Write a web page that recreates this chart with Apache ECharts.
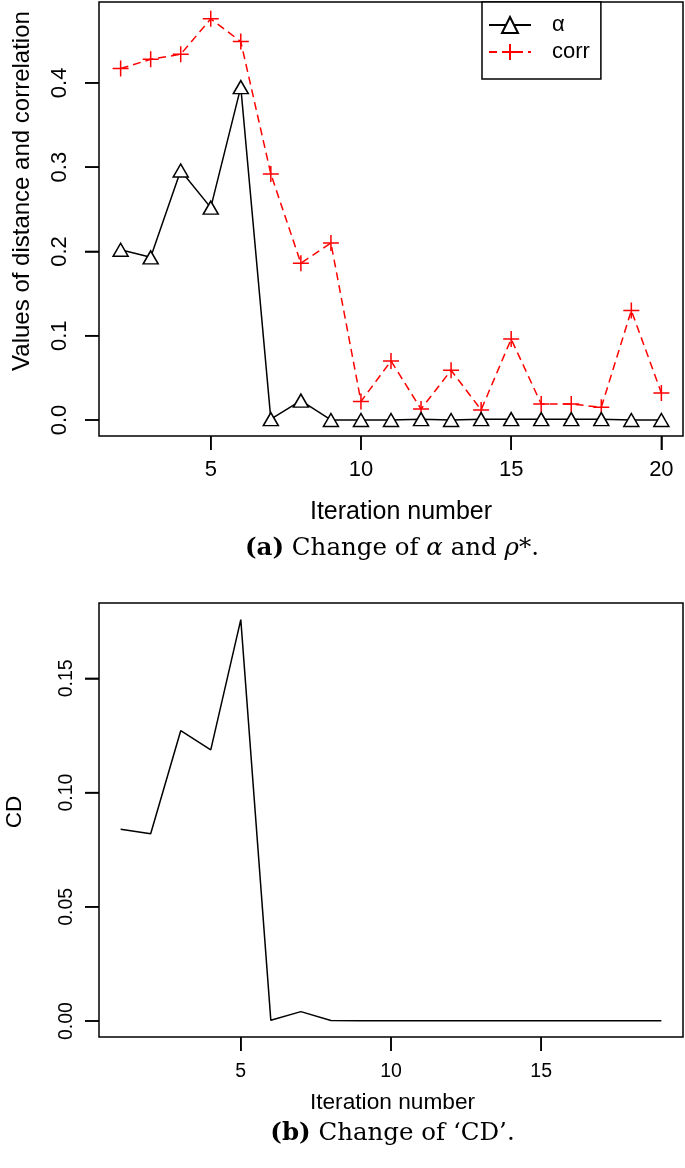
<!DOCTYPE html>
<html>
<head>
<meta charset="utf-8">
<script src="https://cdn.jsdelivr.net/npm/echarts@6/dist/echarts.min.js"></script>
<style>
html,body{margin:0;padding:0;background:#fff;}
#c{width:685px;height:1168px;}
</style>
</head>
<body>
<div id="c"></div>
<script>
// ---- data (top chart) ----
const iterA = [2,3,4,5,6,7,8,9,10,11,12,13,14,15,16,17,18,19,20];
const alphaVals = [0.202,0.193,0.296,0.252,0.395,0.001,0.023,0.000,0.000,0.000,0.001,0.000,0.001,0.001,0.001,0.001,0.001,0.000,0.000];
const corrVals = [0.417,0.428,0.434,0.476,0.449,0.292,0.186,0.210,0.022,0.070,0.013,0.059,0.012,0.096,0.019,0.019,0.015,0.130,0.032];
const xTicksA = [5,10,15,20];
const yTicksA = [0,0.1,0.2,0.3,0.4];
// ---- data (bottom chart) ----
const iterB = [1,2,3,4,5,6,7,8,9,10,11,12,13,14,15,16,17,18,19];
const cdVals = [0.0840,0.0820,0.1271,0.1187,0.1757,0.0003,0.0041,0.0002,0.0001,0.0001,0.0001,0.0001,0.0001,0.0001,0.0001,0.0001,0.0001,0.0001,0.0001];
const xTicksB = [5,10,15];
const yTicksB = [0,0.05,0.10,0.15];

// axis ranges (R-style 4% padding)
const xRangeA = [1.28, 20.72], yRangeA = [-0.019, 0.496];
const xRangeB = [0.28, 19.72], yRangeB = [-0.007, 0.183];

const pairs = (xs, ys) => xs.map((x,i)=>[x, ys[i]]);
const SANS = 'Liberation Sans, Arial, sans-serif';
const SERIF = 'DejaVu Serif, serif';

const chart = echarts.init(document.getElementById('c'), null, {renderer:'canvas'});

function xAxis(gi, range, ticks, fs, margin){
  return {
    type:'value', gridIndex:gi, min:range[0], max:range[1],
    axisLine:{show:false, onZero:false},
    splitLine:{show:false},
    axisTick:{show:true, length:14, inside:false, customValues:ticks, lineStyle:{color:'#000', width:1.5}},
    axisLabel:{show:true, customValues:ticks, margin:margin, color:'#000', fontSize:fs, fontFamily:SANS,
      formatter:v=>String(v)}
  };
}
function yAxis(gi, range, ticks, fs, margin, dec){
  return {
    type:'value', gridIndex:gi, min:range[0], max:range[1],
    axisLine:{show:false, onZero:false},
    splitLine:{show:false},
    axisTick:{show:true, length:14, inside:false, customValues:ticks, lineStyle:{color:'#000', width:1.5}},
    axisLabel:{show:true, customValues:ticks, rotate:90, margin:margin, color:'#000', fontSize:fs, fontFamily:SANS,
      formatter:v=>Number(v).toFixed(dec)}
  };
}
// outward tick marks placed through the axes' own scales (custom series, not clipped)
function tickSeries(gi, dir, data){
  return {
    type:'custom', coordinateSystem:'cartesian2d', xAxisIndex:gi, yAxisIndex:gi,
    data:data, clip:false, silent:true, z:5,
    renderItem:(params, api)=>{
      const p = api.coord([api.value(0), api.value(1)]);
      const end = dir==='x' ? [p[0], p[1]+14] : [p[0]-14, p[1]];
      return {type:'line', shape:{x1:p[0], y1:p[1], x2:end[0], y2:end[1]},
        style:{stroke:'#000', lineWidth:1.5, fill:null}};
    }
  };
}

const option = {
  backgroundColor:'#fff',
  animation:false,
  grid:[
    {left:99, top:2, width:584, height:434, show:true, borderColor:'#000', borderWidth:1.5, backgroundColor:'transparent'},
    {left:99, top:603, width:584, height:434, show:true, borderColor:'#000', borderWidth:1.5, backgroundColor:'transparent'}
  ],
  xAxis:[
    xAxis(0, xRangeA, xTicksA, 22, 23),
    xAxis(1, xRangeB, xTicksB, 19.5, 25)
  ],
  yAxis:[
    yAxis(0, yRangeA, yTicksA, 22, 28, 1),
    yAxis(1, yRangeB, yTicksB, 19.5, 22, 2)
  ],
  legend:{
    show:true, orient:'vertical', left:482, top:2,
    data:['α','corr'],
    itemWidth:42, itemHeight:20, itemGap:5,
    padding:[12,11,16,6],
    borderColor:'#000', borderWidth:1.5, backgroundColor:'#fff',
    textStyle:{fontSize:22, fontFamily:SANS, color:'#000', padding:[0,0,0,16], lineHeight:22},
    selectedMode:false
  },
  series:[
    {
      name:'α', type:'line', xAxisIndex:0, yAxisIndex:0,
      data:pairs(iterA, alphaVals),
      symbol:'triangle', symbolSize:[15,13], showAllSymbol:true,
      lineStyle:{color:'#000', width:1.5, type:'solid'},
      itemStyle:{color:'#fff', borderColor:'#000', borderWidth:1.5},
      emphasis:{disabled:true}, z:3
    },
    {
      name:'corr', type:'line', xAxisIndex:0, yAxisIndex:0,
      data:pairs(iterA, corrVals),
      symbol:'path://M0,5L10,5M5,0L5,10', symbolSize:16, showAllSymbol:true,
      lineStyle:{color:'#ff0000', width:1.5, type:[8,5]},
      itemStyle:{color:'#ff0000', borderColor:'#ff0000', borderWidth:1.5},
      emphasis:{disabled:true}, z:2
    },
    {
      name:'CD', type:'line', xAxisIndex:1, yAxisIndex:1,
      data:pairs(iterB, cdVals),
      symbol:'none',
      lineStyle:{color:'#000', width:1.5},
      emphasis:{disabled:true}
    },
    tickSeries(0, 'x', xTicksA.map(v=>[v, yRangeA[0]])),
    tickSeries(0, 'y', yTicksA.map(v=>[xRangeA[0], v])),
    tickSeries(1, 'x', xTicksB.map(v=>[v, yRangeB[0]])),
    tickSeries(1, 'y', yTicksB.map(v=>[xRangeB[0], v]))
  ],
  graphic:[
    {type:'text', x:22, y:191, rotation:Math.PI/2,
      style:{text:'Values of distance and correlation', fontSize:24, fontFamily:SANS, fill:'#000', align:'center', verticalAlign:'middle'}},
    {type:'text', x:401, y:512,
      style:{text:'Iteration number', fontSize:25, fontFamily:SANS, fill:'#000', align:'center', verticalAlign:'middle'}},
    {type:'text', x:392, y:549,
      style:{text:'{b|(a)} Change of {i|α} and {i|ρ}*.', fontSize:24.5, fontFamily:SERIF, fill:'#000', align:'center', verticalAlign:'middle',
        rich:{b:{fontWeight:'bold', fontSize:24.5, fontFamily:SERIF}, i:{fontStyle:'italic', fontSize:24.5, fontFamily:SERIF}}}},
    {type:'text', x:15, y:812, rotation:Math.PI/2,
      style:{text:'CD', fontSize:22.5, fontFamily:SANS, fill:'#000', align:'center', verticalAlign:'middle'}},
    {type:'text', x:392.5, y:1103,
      style:{text:'Iteration number', fontSize:22.7, fontFamily:SANS, fill:'#000', align:'center', verticalAlign:'middle'}},
    {type:'text', x:392.5, y:1134,
      style:{text:'{b|(b)} Change of ‘CD’.', fontSize:24.5, fontFamily:SERIF, fill:'#000', align:'center', verticalAlign:'middle',
        rich:{b:{fontWeight:'bold', fontSize:24.5, fontFamily:SERIF}}}}
  ]
};
chart.setOption(option);
</script>
</body>
</html>
